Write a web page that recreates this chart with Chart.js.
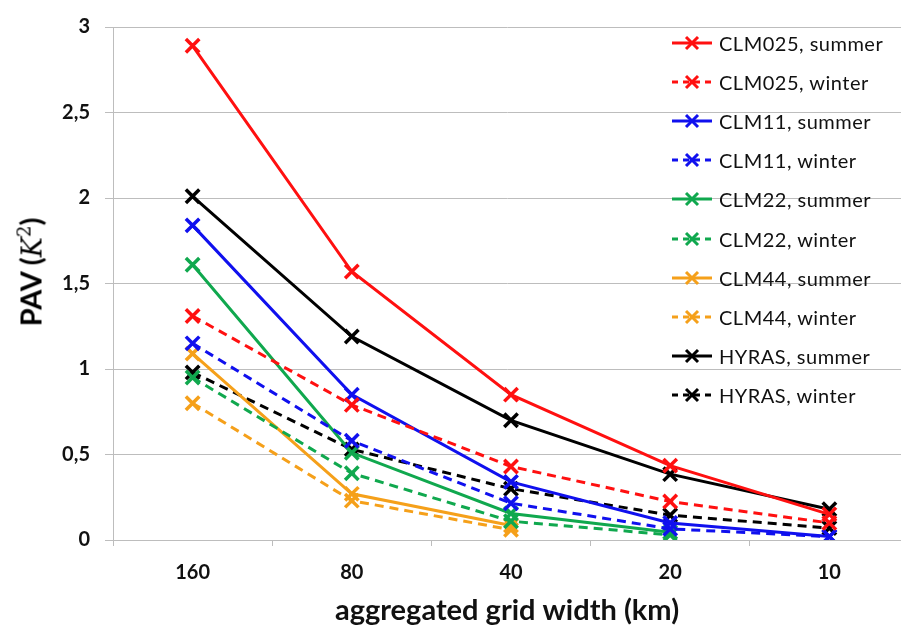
<!DOCTYPE html>
<html>
<head>
<meta charset="utf-8">
<script src="https://cdn.jsdelivr.net/npm/chart.js@4.4.1/dist/chart.umd.min.js"></script>
<style>
  html, body { margin: 0; padding: 0; background: #fff; }
  #wrap { position: relative; width: 901px; height: 628px; }
  #grafico { position: absolute; left: 0; top: 0; }
  #ytitle {
    position: absolute; left: 30px; top: 272px;
    transform: translate(-50%, -50%) rotate(-90deg);
    font-family: Lato, sans-serif; font-weight: bold; font-size: 29px;
    white-space: nowrap; color: #000;
  }
  #ytitle i { font-family: "DejaVu Serif", serif; font-weight: normal; font-size: 27px; }
  #ytitle sup { font-family: "DejaVu Serif", serif; font-weight: normal; font-size: 18px; }
  #leyenda { position: absolute; left: 670px; top: 23px; font-family: Lato, sans-serif; }
  .item { height: 39.2px; display: flex; align-items: center; font-size: 20px; color: #111; letter-spacing: 0.5px; }
  .item svg { margin-right: 5px; }
</style>
</head>
<body>
<div id="wrap">
  <canvas id="grafico" width="901" height="628"></canvas>
  <div id="ytitle">PAV (<i>K</i><sup>2</sup>)</div>
  <div id="leyenda"></div>
</div>
<script>
// grid widths (km), shown as category ticks
const anchos = ['160', '80', '40', '20', '10'];
const posiciones = [0, 1, 2, 3, 4];

const clm025Summer = [2.89, 1.57, 0.85, 0.435, 0.15];
const clm025Winter = [1.31, 0.79, 0.43, 0.225, 0.10];
const clm11Summer = [1.84, 0.85, 0.34, 0.10, 0.02];
const clm11Winter = [1.15, 0.58, 0.215, 0.065, 0.02];
const clm22Summer = [1.61, 0.51, 0.155, 0.045, null];
const clm22Winter = [0.95, 0.39, 0.11, 0.03, null];
const clm44Summer = [1.09, 0.27, 0.085, null, null];
const clm44Winter = [0.80, 0.23, 0.06, null, null];
const hyrasSummer = [2.01, 1.19, 0.70, 0.385, 0.18];
const hyrasWinter = [0.98, 0.53, 0.30, 0.145, 0.07];

const series = [
  { nombre: 'CLM025, summer', datos: clm025Summer, color: '#ff1010', punteado: false },
  { nombre: 'CLM025, winter', datos: clm025Winter, color: '#ff1010', punteado: true },
  { nombre: 'CLM11, summer', datos: clm11Summer, color: '#1010ee', punteado: false },
  { nombre: 'CLM11, winter', datos: clm11Winter, color: '#1010ee', punteado: true },
  { nombre: 'CLM22, summer', datos: clm22Summer, color: '#10a84e', punteado: false },
  { nombre: 'CLM22, winter', datos: clm22Winter, color: '#10a84e', punteado: true },
  { nombre: 'CLM44, summer', datos: clm44Summer, color: '#f5a01a', punteado: false },
  { nombre: 'CLM44, winter', datos: clm44Winter, color: '#f5a01a', punteado: true },
  { nombre: 'HYRAS, summer', datos: hyrasSummer, color: '#000000', punteado: false },
  { nombre: 'HYRAS, winter', datos: hyrasWinter, color: '#000000', punteado: true }
];

const DASH = [9, 6];
const GRIS = '#bdbdbd';

const datasets = series.map(function (s) {
  const puntos = [];
  for (let i = 0; i < posiciones.length; i++) {
    if (s.datos[i] !== null) puntos.push({ x: posiciones[i], y: s.datos[i] });
  }
  return {
    label: s.nombre,
    data: puntos,
    borderColor: s.color,
    backgroundColor: s.color,
    borderWidth: 3,
    borderDash: s.punteado ? DASH : [],
    pointStyle: 'crossRot',
    pointRadius: 9.5,
    pointBorderWidth: 3.5,
    tension: 0
  };
});

// HTML legend with line + cross sample
let plantilla = '';
series.forEach(function (s) {
  const dash = s.punteado ? 'stroke-dasharray="6,5"' : '';
  plantilla += `
  <div class="item">
    <svg width="44" height="16">
      <line x1="2" y1="8" x2="42" y2="8" stroke="${s.color}" stroke-width="3" ${dash}/>
      <line x1="16" y1="2" x2="28" y2="14" stroke="${s.color}" stroke-width="3"/>
      <line x1="28" y1="2" x2="16" y2="14" stroke="${s.color}" stroke-width="3"/>
    </svg>${s.nombre}
  </div>`;
});
document.getElementById('leyenda').innerHTML = plantilla;

const fuenteTicks = { family: 'Lato, sans-serif', size: 20, weight: 'bold' };

const config = {
  type: 'line',
  data: { datasets },
  options: {
    responsive: false,
    animation: false,
    layout: { autoPadding: false, padding: { top: 22, right: 0, left: 0, bottom: 0 } },
    plugins: { legend: { display: false }, tooltip: { enabled: false } },
    scales: {
      x: {
        type: 'linear',
        position: 'bottom',
        min: -0.5,
        max: 4.45,
        afterBuildTicks: function (scale) {
          scale.ticks = [-0.5, 0.5, 1.5, 2.5, 3.5].map(v => ({ value: v }));
        },
        afterFit: function (scale) { scale.height = 6; },
        ticks: { display: false },
        grid: { drawOnChartArea: false, drawTicks: true, tickLength: 6, color: GRIS },
        border: { display: true, color: GRIS }
      },
      xl: {
        type: 'linear',
        position: 'bottom',
        min: -0.5,
        max: 4.45,
        afterBuildTicks: function (scale) {
          scale.ticks = posiciones.map(v => ({ value: v }));
        },
        afterFit: function (scale) { scale.height = 82; },
        ticks: {
          callback: function (v) { return anchos[posiciones.indexOf(v)]; },
          color: '#111',
          font: fuenteTicks,
          padding: 15,
          maxRotation: 0,
          autoSkip: false
        },
        grid: { display: false, drawTicks: false },
        border: { display: false },
        title: {
          display: true,
          text: 'aggregated grid width (km)',
          color: '#111',
          font: { family: 'Lato, sans-serif', size: 29, weight: 'bold' },
          padding: { top: 0, bottom: 0 }
        }
      },
      y: {
        min: 0,
        max: 3,
        afterFit: function (scale) { scale.width = 113; },
        ticks: {
          stepSize: 0.5,
          color: '#111',
          font: fuenteTicks,
          padding: 15,
          callback: function (v) { return String(v).replace('.', ','); }
        },
        grid: { color: GRIS, tickLength: 8 },
        border: { color: GRIS }
      }
    }
  }
};

const myChart = new Chart(document.getElementById('grafico'), config);
</script>
</body>
</html>
